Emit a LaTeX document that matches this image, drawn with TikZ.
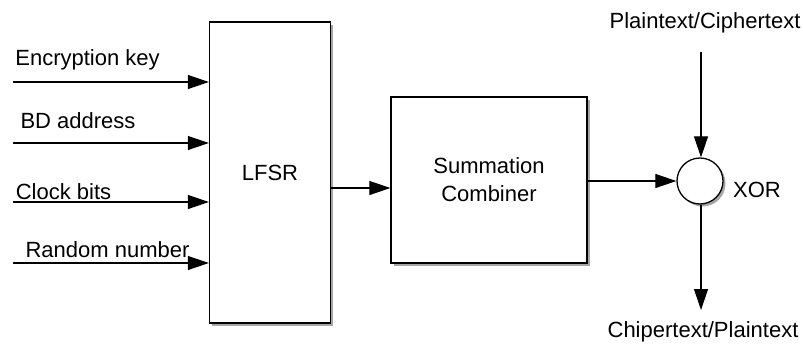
\documentclass[tikz,border=0pt]{standalone}
\usepackage{fontspec}
\setmainfont{Liberation Sans}
\usetikzlibrary{arrows.meta,shadows}
\begin{document}
\begin{tikzpicture}[x=1pt,y=-1pt,
  font=\fontsize{22}{28}\selectfont,
  blk/.style={draw,line width=1.3pt,fill=white,inner sep=0pt,
    drop shadow={shadow xshift=2.5pt,shadow yshift=-2.5pt,fill=black,opacity=0.35}},
  arr/.style={line width=1.1pt,-{Triangle[length=21pt,width=14pt]}},
  lbl/.style={anchor=base,inner sep=0pt}]
\useasboundingbox (0,0) rectangle (803,351);

% processing blocks
\node[blk,minimum width=121pt,minimum height=301pt] (lfsr) at (270,172.5) {LFSR};
\node[blk,minimum width=196pt,minimum height=166pt,align=center] (sum) at (489,180) {Summation\\Combiner};
\node[blk,circle,minimum size=46pt] (xor) at (700,181) {};
\node[lbl] (xorl) at (757,197) {XOR};

% inputs to the LFSR
\coordinate (k) at (13,82);
\coordinate (a) at (13,143);
\coordinate (c) at (13,202);
\coordinate (r) at (13,263);
\node[lbl] (kl) at (87.5,65) {Encryption key};
\node[lbl] (al) at (78,128) {BD address};
\node[lbl] (cl) at (63.5,199) {Clock bits};
\node[lbl] (rl) at (107.5,257) {Random number};
\draw[arr] (k) -- (k -| lfsr.west);
\draw[arr] (a) -- (a -| lfsr.west);
\draw[arr] (c) -- (c -| lfsr.west);
\draw[arr] (r) -- (r -| lfsr.west);

% keystream path
\coordinate (ls) at (0,188);
\draw[arr] (ls -| lfsr.east) -- (ls -| sum.west);
\draw[arr] (sum.east |- xor.west) -- (xor.west);

% data in / out of the XOR
\coordinate (pin) at (701,52);
\coordinate (pout) at (701,310);
\node[lbl] (pinl) at (705,28) {Plaintext/Ciphertext};
\node[lbl] (poutl) at (703,337) {Chipertext/Plaintext};
\draw[arr] (pin) -- (pin |- xor.north);
\draw[arr] (pout |- xor.south) -- (pout);
\end{tikzpicture}
\end{document}
